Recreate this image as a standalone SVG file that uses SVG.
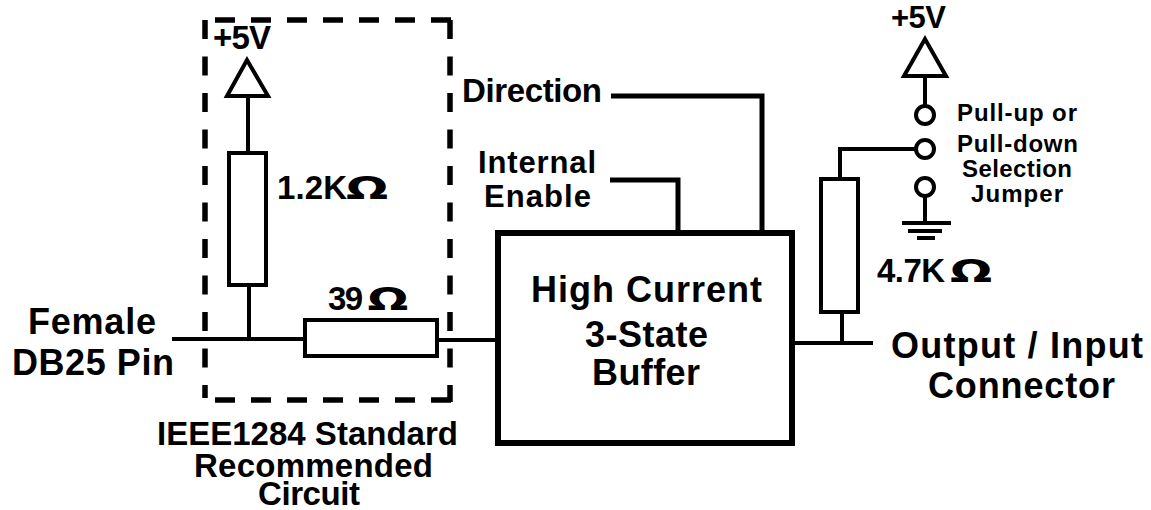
<svg xmlns="http://www.w3.org/2000/svg" width="1151" height="510" viewBox="0 0 1151 510">
<style>
.w{fill:none;stroke:#000;stroke-width:4}
.t{fill:none;stroke:#000;stroke-width:5}
.d{fill:none;stroke:#000;stroke-width:5.5;stroke-dasharray:20 16}
.e{fill:none;stroke:#000;stroke-width:5.5;stroke-dasharray:19 17.5}
.b{fill:#fff;stroke:#000;stroke-width:4}
.o{font-family:"DejaVu Sans",sans-serif;font-size:32px}
text{font-family:"Liberation Sans",Arial,sans-serif;font-weight:bold;fill:#000}
.l{font-size:36px}.m{font-size:33px}.n{font-size:31px}.s{font-size:24px}
</style>
<rect width="1151" height="510" fill="#fff"/>
<g id="connectors">
<path class="w" d="M172 339H305M249 339V286M248 152V96M437 340H498M795 343H873M842 343V312M840 179V149H916M925 76V106M925 197V223M902 223H951"/>
<path class="w" d="M908 231H942M917 238H935"/>
<path class="t" d="M611 96H762V232M610 180H678V232"/>
</g>
<g id="dashed-box"><path class="d" d="M215 20H453M215 400H453"/><path class="e" d="M205 20V398M450 20V402"/></g>
<g id="r1"><rect class="b" x="229" y="153" width="37" height="132"/><text class="m" x="277" y="199" textLength="70">1.2K</text><text class="o" text-anchor="middle" transform="translate(367,199) scale(1.55,1)">Ω</text></g>
<g id="r2"><rect class="b" x="305" y="320" width="132" height="36"/><text class="m" x="328" y="310" textLength="35">39</text><text class="o" text-anchor="middle" transform="translate(388,310) scale(1.5,1)">Ω</text></g>
<g id="r3"><rect class="b" x="821" y="179" width="37" height="133"/><text class="m" x="877" y="282" textLength="68">4.7K</text><text class="o" text-anchor="middle" transform="translate(971,282) scale(1.55,1)">Ω</text></g>
<g id="vcc1"><path class="b" d="M247 60L227 96H268Z"/><text class="m" x="213" y="49" textLength="58">+5V</text></g>
<g id="vcc2"><path class="b" d="M925 39L904 76H946Z"/><text class="n" x="891" y="28" textLength="55">+5V</text></g>
<g id="pins"><circle class="w" cx="925" cy="115" r="9"/><circle class="w" cx="925" cy="149" r="9"/><circle class="w" cx="925" cy="187" r="9"/></g>
<g id="buffer"><rect x="498" y="233" width="294" height="210" fill="#fff" stroke="#000" stroke-width="6"/><text class="l" x="531" y="302" textLength="231">High Current</text><text class="l" x="585" y="347" textLength="123">3-State</text><text class="l" x="592" y="385" textLength="108">Buffer</text></g>
<g id="labels">
<text class="l" x="28" y="334" textLength="128">Female</text><text class="l" x="12" y="375" textLength="162">DB25 Pin</text>
<text class="m" x="462" y="102" textLength="140">Direction</text>
<text class="n" x="478" y="173" textLength="118">Internal</text><text class="n" x="484" y="207" textLength="107">Enable</text>
<text class="s" x="957" y="121" textLength="120">Pull-up or</text><text class="s" x="957" y="152" textLength="121">Pull-down</text><text class="s" x="962" y="177" textLength="110">Selection</text><text class="s" x="971" y="202" textLength="92">Jumper</text>
<text class="l" x="891" y="358" textLength="252">Output / Input</text><text class="l" x="928" y="398" textLength="187">Connector</text>
<text class="m" x="157" y="445" textLength="301">IEEE1284 Standard</text><text class="m" x="194" y="477" textLength="239">Recommended</text><text class="m" x="258" y="505" textLength="102">Circuit</text>
</g>
</svg>
